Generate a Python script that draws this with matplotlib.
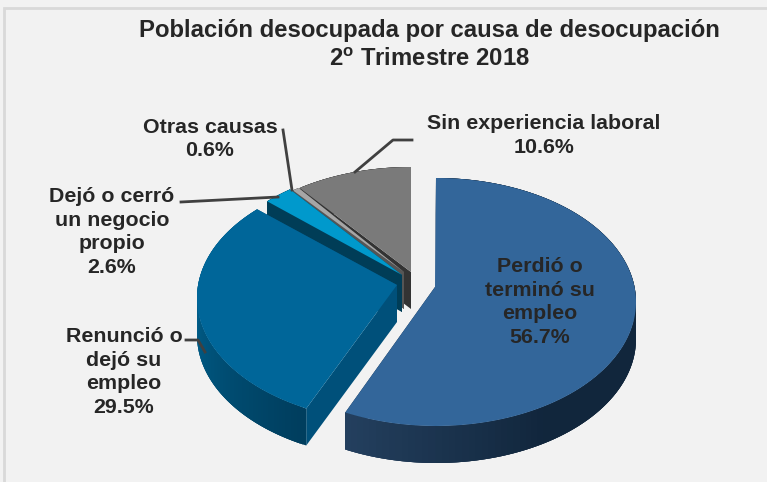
import numpy as np
import matplotlib
matplotlib.use("Agg")
import matplotlib.pyplot as plt
from matplotlib.colors import to_rgb

plt.rcParams['font.family'] = ['Liberation Sans', 'DejaVu Sans']
plt.rcParams['mathtext.fontset'] = 'custom'
plt.rcParams['mathtext.bf'] = 'Liberation Sans:bold'
plt.rcParams['mathtext.rm'] = 'Liberation Sans:bold'

# data
causes = ['Perdió o\nterminó su\nempleo', 'Renunció o\ndejó su\nempleo',
          'Dejó o cerró\nun negocio\npropio', 'Otras causas', 'Sin experiencia laboral']
shares = [56.7, 29.5, 2.6, 0.6, 10.6]

# look of each slice, same order as above
top_colors = ['#33669a', '#006699', '#0099cc', '#a6a6a6', '#7a7a7a']
side_colors = ['#14293f', '#00507a', '#003d57', '#555555', '#333333']
wall_dark = ['#11263c', '#003e5e', '#003d57', '#555555', '#333333']
wall_light = ['#24405f', '#005e8a', '#003d57', '#555555', '#333333']
shade_start = [150, 205, 0, 0, 0]
shade_end = [204, 265, 1, 1, 1]

# centres of the exploded slices, in pixels
centre_x = [436, 397, 407, 410, 411]
centre_y = [302, 298, 290, 291, 291]
tip_x = [435, 397, 402, 404, 411]
tip_y = [287, 285, 275, 272, 272]
rx = 200
ry = 124
depth = 37
warp = 7  # front slices look bigger than back ones

BG = '#f2f2f2'

fig = plt.figure(figsize=(7.67, 4.82), dpi=100, facecolor=BG)
ax = fig.add_axes([0, 0, 1, 1])
ax.set_xlim(0, 767)
ax.set_ylim(482, 0)
ax.axis('off')

# chart frame
ax.plot([3.5, 3.5, 767], [482, 8, 8], color='#d9d9d9', lw=2, solid_joinstyle='miter')


def rim(t, cx, cy):
    a = np.radians(t - warp * np.sin(np.radians(t)))
    return cx + rx * np.sin(a), cy - ry * np.cos(a)


edges = np.cumsum([0] + shares) / sum(shares) * 360

# back to front
for i in [4, 3, 2, 1, 0]:
    z = 20 - 3 * i
    t = np.linspace(edges[i], edges[i + 1], 120)
    x, y = rim(t, centre_x[i], centre_y[i])
    tx, ty = tip_x[i], tip_y[i]

    # flat side walls
    for j in [0, -1]:
        ax.fill([tx, x[j], x[j], tx], [ty, y[j], y[j] + depth, ty + depth],
                color=side_colors[i], lw=0, zorder=z)

    # outer wall, strips overlap so no seams show
    dark, light = np.array(to_rgb(wall_dark[i])), np.array(to_rgb(wall_light[i]))
    for k in range(len(t) - 1):
        f = np.clip((t[k] - shade_start[i]) / (shade_end[i] - shade_start[i]), 0, 1)
        m = min(k + 3, len(t) - 1)
        ax.fill(np.r_[x[k:m + 1], x[k:m + 1][::-1]],
                np.r_[y[k:m + 1], y[k:m + 1][::-1] + depth],
                color=tuple(dark + (light - dark) * f), lw=0, zorder=z)

    ax.fill(np.r_[tx, x], np.r_[ty, y], color=top_colors[i], lw=0, zorder=z + 1)

# leader lines
leader_x = [[283, 292], [412, 393, 355], [181, 278], [186, 198, 205]]
leader_y = [[130, 190], [140, 140, 172], [202, 197], [340, 340, 352]]
for lx, ly in zip(leader_x, leader_y):
    ax.plot(lx, ly, color='#404040', lw=2, zorder=30)

# texts
tkw = dict(ha='center', va='center', fontweight='bold', color='#262626', linespacing=1.31)
ax.text(429, 30.5, 'Población desocupada por causa de desocupación', fontsize=17.2, **tkw)
ax.text(429, 60, r'2$^{\mathbf{o}}$ Trimestre 2018', fontsize=17.2, **tkw)

label_x = [540, 124, 112, 210, 544]
label_y = [302, 372, 232, 139, 135.5]
for name, share, lx, ly in zip(causes, shares, label_x, label_y):
    ax.text(lx, ly, f'{name}\n{share}%', fontsize=15.4, zorder=31, **tkw)

fig.savefig('out.png', dpi=100, facecolor=BG)
